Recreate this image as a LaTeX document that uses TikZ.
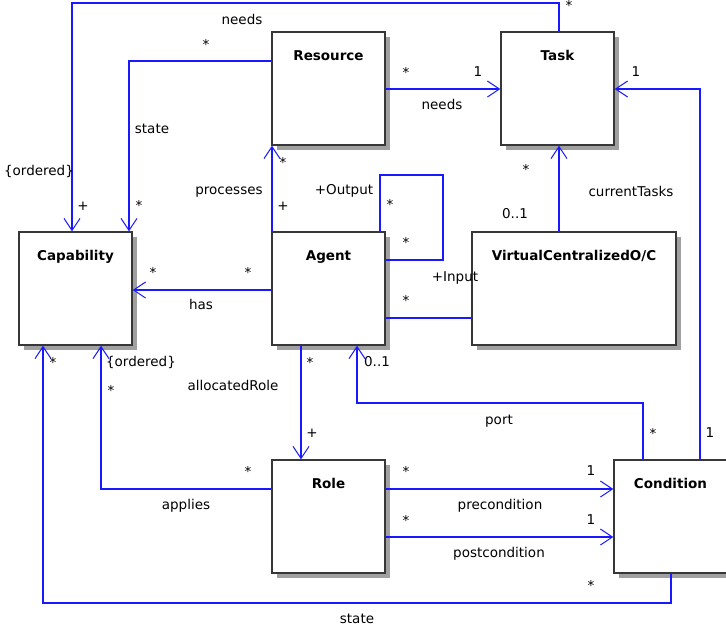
\documentclass[tikz,border=0pt]{standalone}
\usepackage{fontspec}
\setmainfont{DejaVu Sans}
\usetikzlibrary{arrows.meta,shadows}
\definecolor{conncol}{RGB}{25,25,255}
\definecolor{boxcol}{RGB}{55,55,55}
\definecolor{shadcol}{RGB}{160,160,160}
\begin{document}
\begin{tikzpicture}[x=1pt,y=-1pt,
  cls/.style={draw=boxcol, line width=1.4pt, fill=white, minimum width=113pt, minimum height=113pt, inner sep=0pt,
    drop shadow={shadow xshift=5pt, shadow yshift=-5pt, opacity=1, fill=shadcol},
    label={[title]north:#1}},
  title/.style={font=\bfseries\fontsize{13.5}{16}\selectfont, anchor=center, yshift=-24.5pt, inner sep=0pt, text height=9.5pt, text depth=0pt},
  lab/.style={font=\fontsize{13.5}{16}\selectfont, inner sep=0pt, text height=10pt, text depth=2.5pt},
  ast/.style={lab, yshift=-4pt},
  conn/.style={draw=conncol, line width=1.3pt},
  arr/.style={conn, -{Straight Barb[length=12pt,width=16pt,line width=1pt]}}]
\useasboundingbox (0,0) rectangle (726,632);

% classes
\node[cls=Resource] (Resource) at (328.5,88.5) {};
\node[cls=Task] (Task) at (557.5,88.5) {};
\node[cls=Capability] (Capability) at (75.5,288.5) {};
\node[cls=Agent] (Agent) at (328.5,288.5) {};
\node[cls=VirtualCentralizedO/C, minimum width=204pt] (VC) at (574,288.5) {};
\node[cls=Role] (Role) at (328.5,516.5) {};
\node[cls=Condition] (Condition) at (670.5,516.5) {};

% connectors
\draw[arr] (Task.north -| 559,0) -- (559,3) -- (72,3) -- (Capability.north -| 72,0);
\draw[arr] (Resource.west |- 0,61) -- (129,61) -- (Capability.north -| 129,0);
\draw[arr] (Resource.east |- 0,89) -- (Task.west |- 0,89);
\draw[arr] (Agent.north -| 272,0) -- (Resource.south -| 272,0);
\draw[conn] (Agent.east |- 0,260) -- (443,260) -- (443,175) -- (380,175) -- (Agent.north -| 380,0);
\draw[conn] (Agent.east |- 0,318) -- (VC.west |- 0,318);
\draw[arr] (VC.north -| 559,0) -- (Task.south -| 559,0);
\draw[arr] (Condition.north -| 700,0) -- (700,89) -- (Task.east |- 0,89);
\draw[arr] (Condition.north -| 643,0) -- (643,403) -- (357,403) -- (Agent.south -| 357,0);
\draw[arr] (Agent.south -| 301,0) -- (Role.north -| 301,0);
\draw[arr] (Role.west |- 0,489) -- (101,489) -- (Capability.south -| 101,0);
\draw[arr] (Agent.west |- 0,290) -- (Capability.east |- 0,290);
\draw[arr] (Role.east |- 0,489) -- (Condition.west |- 0,489);
\draw[arr] (Role.east |- 0,537) -- (Condition.west |- 0,537);
\draw[arr] (Condition.south -| 671,0) -- (671,603) -- (43,603) -- (Capability.south -| 43,0);

% labels
\node[lab] (t1) at (242,21) {needs};
\node[ast] (t2) at (206,42) {*};
\node[lab] (t3) at (39,172) {\{ordered\}};
\node[lab] (t4) at (83,207) {+};
\node[lab] (t5) at (152,130) {state};
\node[ast] (t6) at (139,203) {*};
\node[ast] (t7) at (569,3) {*};
\node[lab] (t8) at (229,191) {processes};
\node[ast] (t9) at (283,160) {*};
\node[lab] (t10) at (283,207) {+};
\node[lab] (t11) at (344,191) {+Output};
\node[ast] (t12) at (406,70) {*};
\node[lab] (t13) at (478,73) {1};
\node[lab] (t14) at (442,106) {needs};
\node[lab] (t15) at (636,73) {1};
\node[ast] (t16) at (526,167) {*};
\node[lab] (t17) at (631,193) {currentTasks};
\node[lab] (t18) at (515,215) {0..1};
\node[ast] (t19) at (390,202) {*};
\node[ast] (t20) at (406,240) {*};
\node[lab] (t21) at (455,278) {+Input};
\node[ast] (t22) at (406,298) {*};
\node[ast] (t23) at (153,270) {*};
\node[ast] (t24) at (248,270) {*};
\node[lab] (t25) at (201,306) {has};
\node[ast] (t26) at (53,360) {*};
\node[lab] (t27) at (141,363) {\{ordered\}};
\node[ast] (t28) at (111,388) {*};
\node[lab] (t29) at (233,387) {allocatedRole};
\node[ast] (t30) at (310,360) {*};
\node[lab] (t31) at (377,363) {0..1};
\node[lab] (t32) at (499,421) {port};
\node[ast] (t33) at (653,431) {*};
\node[lab] (t34) at (710,434) {1};
\node[lab] (t35) at (312,434) {+};
\node[ast] (t36) at (248,469) {*};
\node[lab] (t37) at (186,506) {applies};
\node[ast] (t38) at (406,469) {*};
\node[lab] (t39) at (591,472) {1};
\node[lab] (t40) at (500,506) {precondition};
\node[ast] (t41) at (406,518) {*};
\node[lab] (t42) at (591,521) {1};
\node[lab] (t43) at (499,554) {postcondition};
\node[ast] (t44) at (591,583) {*};
\node[lab] (t45) at (357,620) {state};
\end{tikzpicture}
\end{document}
